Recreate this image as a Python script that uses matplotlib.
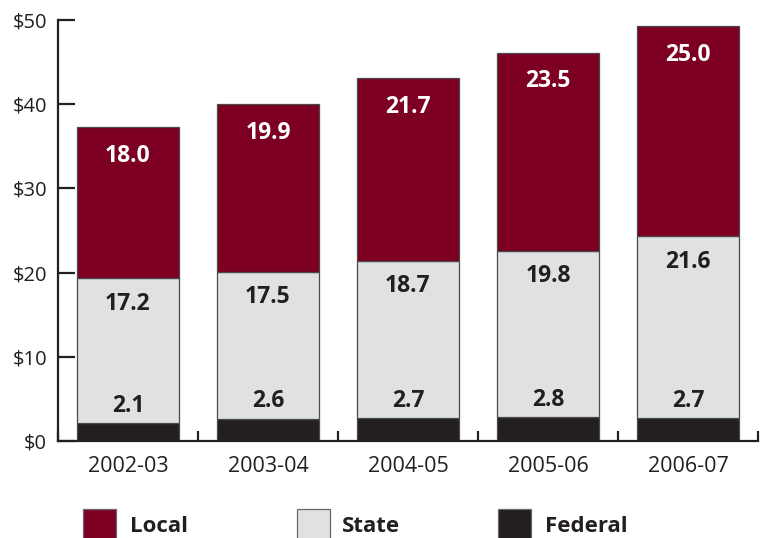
import matplotlib.pyplot as plt
import numpy as np
from matplotlib.patches import Rectangle

plt.rcParams['font.family'] = ['Open Sans', 'DejaVu Sans']

years = ["2002-03", "2003-04", "2004-05", "2005-06", "2006-07"]
federal = [2.1, 2.6, 2.7, 2.8, 2.7]
state = [17.2, 17.5, 18.7, 19.8, 21.6]
local = [18.0, 19.9, 21.7, 23.5, 25.0]

LOCAL_C = "#7d0023"
STATE_C = "#e0e1e3"
FED_C = "#231f20"
AXIS_C = "#231f20"

fig = plt.figure(figsize=(7.68, 5.38), dpi=100)
ax = fig.add_axes([58 / 768, 1 - 441 / 538, 700 / 768, 421 / 538])

x = np.arange(len(years))
fed = np.array(federal)
st = np.array(state)
lo = np.array(local)
w = 0.725
edge = dict(edgecolor="#4a4a4a", linewidth=0.9)
ax.bar(x, fed, w, color=FED_C, **edge)
ax.bar(x, st, w, bottom=fed, color=STATE_C, **edge)
ax.bar(x, lo, w, bottom=fed + st, color=LOCAL_C, **edge)

lab = dict(ha="center", va="center", fontsize=16.5, fontweight="bold")
for i in range(len(years)):
    ax.text(x[i], fed[i] + 2.1, f"{federal[i]:.1f}", color="#231f20", **lab)
    ax.text(x[i], fed[i] + st[i] - 3.0, f"{state[i]:.1f}", color="#231f20", **lab)
    ax.text(x[i], fed[i] + st[i] + lo[i] - 3.4, f"{local[i]:.1f}", color="white", **lab)

ax.set_xlim(-0.5, len(years) - 0.5)
ax.set_ylim(0, 50)
ax.set_yticks(range(0, 51, 10))
ax.set_yticklabels([f"${v}" for v in range(0, 51, 10)])
ax.set_xticks(x)
ax.set_xticklabels(years)
ax.set_xticks(np.arange(-0.5, len(years)), minor=True)

for s in ["top", "right"]:
    ax.spines[s].set_visible(False)
for s in ["left", "bottom"]:
    ax.spines[s].set_color(AXIS_C)
    ax.spines[s].set_linewidth(1.6)

ax.tick_params(axis="y", direction="in", length=12, width=1.6, color=AXIS_C,
               pad=8, labelsize=14.5, labelcolor="#231f20")
ax.tick_params(axis="x", which="major", length=0, pad=11, labelsize=15.5,
               labelcolor="#231f20")
ax.tick_params(axis="x", which="minor", direction="in", length=7, width=1.6,
               color=AXIS_C)

# legend row along the bottom edge
legend_items = [("Local", LOCAL_C, 83, 130), ("State", STATE_C, 297, 342),
                ("Federal", FED_C, 498, 545)]
for name, col, px, tx in legend_items:
    fig.patches.append(Rectangle((px / 768, -0.02), 33 / 768, (538 - 509) / 538 + 0.02,
                                 transform=fig.transFigure, facecolor=col,
                                 edgecolor="#6a6a6a", linewidth=0.9))
    fig.text(tx / 768, 1 - 526 / 538, name, fontsize=16, fontweight="bold",
             color="#231f20", ha="left", va="center")

fig.savefig("out.png", dpi=100)
